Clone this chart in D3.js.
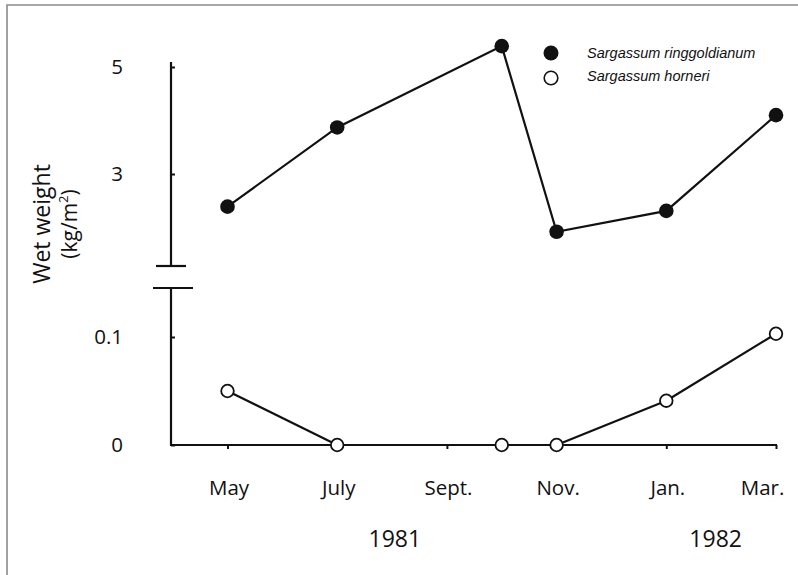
<!DOCTYPE html>
<html>
<head>
<meta charset="utf-8">
<script src="https://cdn.jsdelivr.net/npm/d3@7"></script>
<style>
  html, body { margin: 0; padding: 0; background: #fff; }
  svg { display: block; font-family: "Open Sans", "Liberation Sans", Arial, sans-serif; font-weight: 500; }
</style>
</head>
<body>
<svg id="chart" width="798" height="575"></svg>
<script>
// Sampling months, counted from May 1981
const monthLabels = ["May", "July", "Sept.", "Nov.", "Jan.", "Mar."];
const monthTicks = [0, 2, 4, 6, 8, 10];
const yearLabels = ["1981", "1982"];

// Sampling dates (months since May 1981)
const sampleMonths = [0, 2, 5, 6, 8, 10];
// Wet weight (kg/m²)
const ringgoldianum = [2.39, 3.87, 5.39, 1.92, 2.31, 4.10];
const horneri = [0.050, 0.0, 0.0, 0.0, 0.041, 0.103];

// Y tick labels
const upperTicks = [3, 5];
const lowerTicks = [0, 0.1];

const FONT = "'Open Sans', 'Liberation Sans', Arial, sans-serif";
const svg = d3.select("#chart");

// Frame lines
svg.append("path")
  .attr("d", "M7,575 L7,5 L798,5")
  .attr("fill", "none")
  .attr("stroke", "#8a8a8a")
  .attr("stroke-width", 1.6);

const axisX = 171;
const x = d3.scaleLinear().domain([0, 10]).range([227.5, 776]);
const yUp = d3.scaleLinear().domain([3, 5]).range([174, 67]);
const yLow = d3.scaleLinear().domain([0, 0.1]).range([445, 337]);

const ink = "#111";

// Upper (broken) axis segment
svg.append("line")
  .attr("x1", axisX).attr("x2", axisX)
  .attr("y1", 62).attr("y2", 266)
  .attr("stroke", ink).attr("stroke-width", 2.2);
// Lower axis segment
svg.append("line")
  .attr("x1", axisX).attr("x2", axisX)
  .attr("y1", 288).attr("y2", 446)
  .attr("stroke", ink).attr("stroke-width", 2.2);
// Break marks
svg.append("line").attr("x1", 156).attr("x2", 186).attr("y1", 266).attr("y2", 266)
  .attr("stroke", ink).attr("stroke-width", 2.2);
svg.append("line").attr("x1", 153).attr("x2", 193).attr("y1", 288).attr("y2", 288)
  .attr("stroke", ink).attr("stroke-width", 2.2);

// Y axes (ticks and labels)
function styleAxis(g) {
  g.select(".domain").remove();
  g.selectAll(".tick line").attr("stroke", ink).attr("stroke-width", 2);
  g.selectAll(".tick text")
    .attr("fill", ink)
    .style("font-size", "20.5px")
    .style("font-family", FONT);
}
svg.append("g")
  .attr("transform", `translate(${axisX},0)`)
  .call(d3.axisLeft(yUp).tickValues(upperTicks).tickSize(-4).tickPadding(48).tickFormat(d3.format("d")))
  .call(styleAxis);
svg.append("g")
  .attr("transform", `translate(${axisX},0)`)
  .call(d3.axisLeft(yLow).tickValues(lowerTicks).tickSize(-4).tickPadding(48).tickFormat(d => d === 0 ? "0" : String(d)))
  .call(styleAxis);

// X axis
const xAxis = svg.append("g")
  .attr("transform", `translate(0,445)`)
  .call(d3.axisBottom(x).tickValues(monthTicks).tickSize(4).tickPadding(31)
    .tickFormat((d, i) => monthLabels[i]));
xAxis.select(".domain").remove();
xAxis.append("line")
  .attr("x1", axisX).attr("x2", x(10) + 1)
  .attr("y1", 0).attr("y2", 0)
  .attr("stroke", ink).attr("stroke-width", 2.2);
xAxis.selectAll(".tick line").attr("stroke", ink).attr("stroke-width", 2);
xAxis.selectAll(".tick text")
  .attr("fill", ink)
  .style("font-size", "20.5px")
  .style("font-family", FONT)
  .attr("dx", (d, i) => i === monthLabels.length - 1 ? -14 : 1);

// Year labels
svg.selectAll("text.year")
  .data(yearLabels)
  .join("text")
  .attr("class", "year")
  .attr("x", (d, i) => i === 0 ? x(3.05) : x(8.9))
  .attr("y", 547)
  .attr("text-anchor", "middle")
  .attr("fill", ink)
  .style("font-size", "23px")
  .text(d => d);

// Y axis title
const title = svg.append("g").attr("transform", "translate(0,224)");
title.append("text")
  .attr("transform", "translate(50,0) rotate(-90)")
  .attr("text-anchor", "middle")
  .attr("fill", ink)
  .style("font-size", "23px")
  .text("Wet weight");
const unit = title.append("text")
  .attr("transform", "translate(77,0) rotate(-90)")
  .attr("text-anchor", "middle")
  .attr("fill", ink)
  .style("font-size", "21px");
unit.append("tspan").text("(kg/m");
unit.append("tspan").attr("dy", -9).style("font-size", "13px").text("2");
unit.append("tspan").attr("dy", 9).text(")");

// Series lines
const upperData = sampleMonths.map((m, i) => ({ m, v: ringgoldianum[i] }));
const lowerData = sampleMonths.map((m, i) => ({ m, v: horneri[i] }));

svg.append("path")
  .datum(upperData)
  .attr("fill", "none")
  .attr("stroke", ink)
  .attr("stroke-width", 2.2)
  .attr("d", d3.line().x(d => x(d.m)).y(d => yUp(d.v)));

// S. horneri: line is drawn only between samples where it is non-zero on either end
const lowerSegments = [];
for (let i = 0; i < lowerData.length - 1; i++) {
  const a = lowerData[i], b = lowerData[i + 1];
  if (a.v > 0 || b.v > 0) lowerSegments.push([a, b]);
}
svg.selectAll("path.lowerSeg")
  .data(lowerSegments)
  .join("path")
  .attr("class", "lowerSeg")
  .attr("fill", "none")
  .attr("stroke", ink)
  .attr("stroke-width", 2.2)
  .attr("d", d3.line().x(d => x(d.m)).y(d => yLow(d.v)));

// Markers
svg.selectAll("circle.ring")
  .data(upperData)
  .join("circle")
  .attr("class", "ring")
  .attr("cx", d => x(d.m))
  .attr("cy", d => yUp(d.v))
  .attr("r", 7.3)
  .attr("fill", ink);

svg.selectAll("circle.horn")
  .data(lowerData)
  .join("circle")
  .attr("class", "horn")
  .attr("cx", d => x(d.m))
  .attr("cy", d => yLow(d.v))
  .attr("r", 6.3)
  .attr("fill", "#fff")
  .attr("stroke", ink)
  .attr("stroke-width", 1.8);

// Legend
const legend = svg.append("g");
legend.append("circle").attr("cx", 551).attr("cy", 53).attr("r", 7.5).attr("fill", ink);
legend.append("circle").attr("cx", 551).attr("cy", 78).attr("r", 6.8)
  .attr("fill", "#fff").attr("stroke", ink).attr("stroke-width", 1.6);
legend.append("text").attr("x", 587).attr("y", 58)
  .style("font-size", "14.5px").style("font-style", "italic").style("font-family", "'Liberation Sans', Arial, sans-serif")
  .attr("fill", ink)
  .text("Sargassum ringgoldianum");
legend.append("text").attr("x", 587).attr("y", 81)
  .style("font-size", "14.5px").style("font-style", "italic").style("font-family", "'Liberation Sans', Arial, sans-serif")
  .attr("fill", ink)
  .text("Sargassum horneri");
</script>
</body>
</html>
